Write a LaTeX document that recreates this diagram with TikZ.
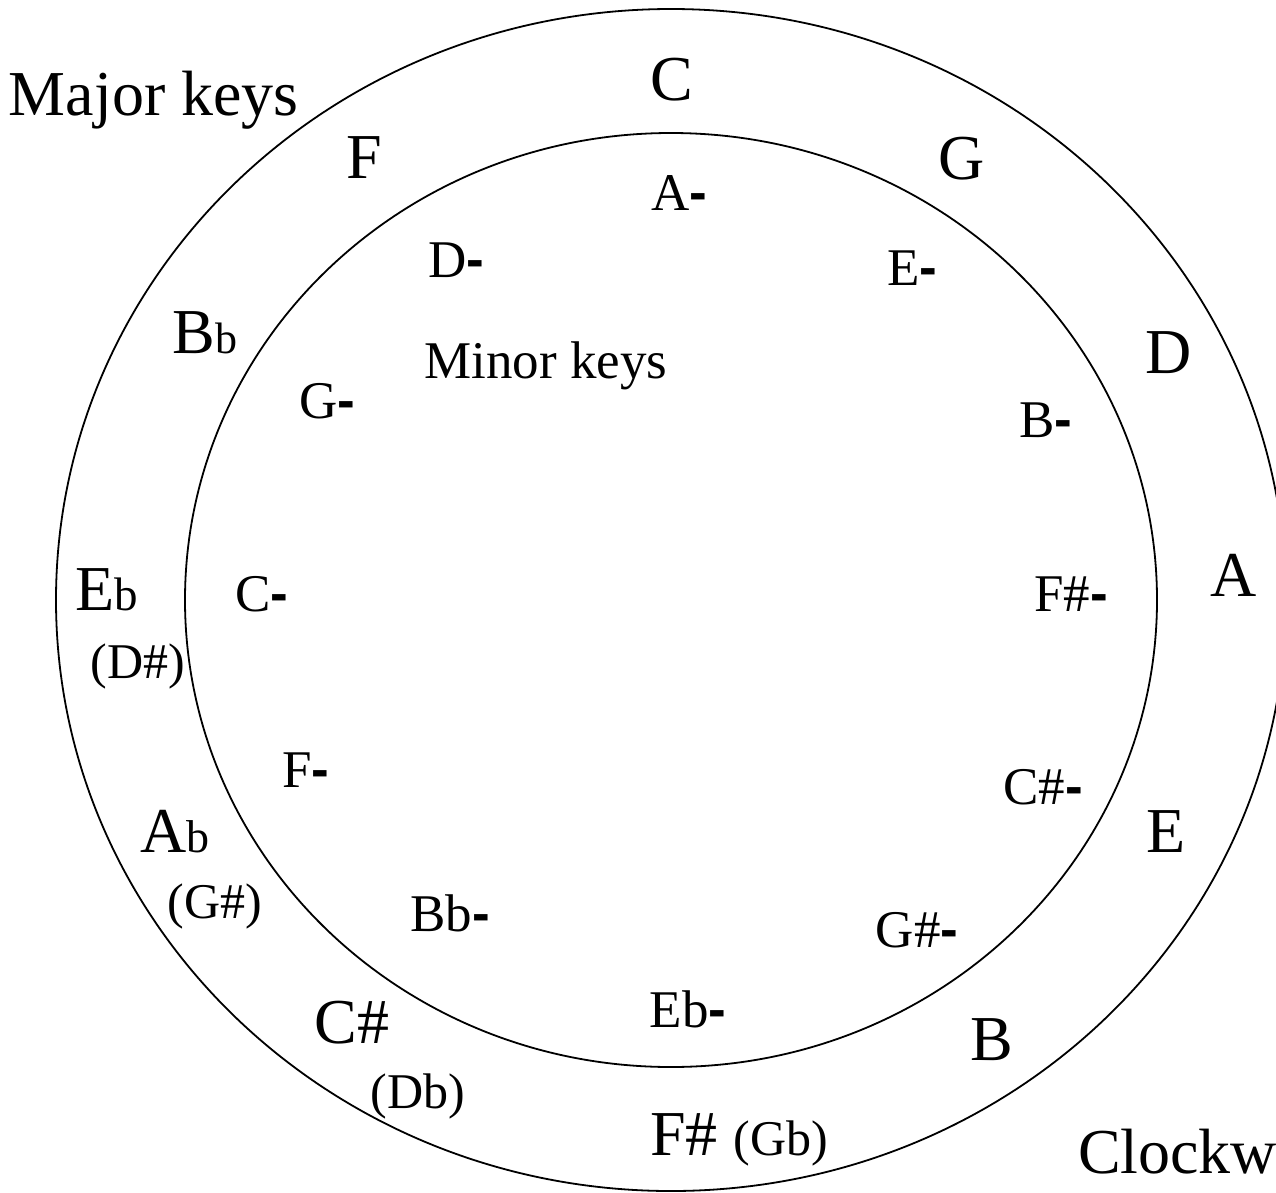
\documentclass[tikz,border=0pt]{standalone}
\usepackage{fontspec}
\setmainfont{Liberation Serif}
\newfontfamily\dashfont{Liberation Sans}
\newcommand\majsz{\fontsize{64}{70}\selectfont}
\newcommand\minsz{\fontsize{53}{58}\selectfont}
\newcommand\altsz{\fontsize{50}{55}\selectfont}
\newcommand\flatb[1]{{\fontsize{#1}{#1}\selectfont b}}
\newcommand\mnrdash{{\dashfont\bfseries -}}
\begin{document}
\begin{tikzpicture}[x=1pt, y=-1pt,
  lbl/.style={inner sep=0pt, outer sep=0pt, anchor=base},
  major/.style={lbl, font=\majsz},
  minor/.style={lbl, font=\minsz},
  alt/.style={lbl, font=\altsz},
  ring/.style={draw=black, line width=1.8pt}]
\useasboundingbox (0,0) rectangle (1276,1192);
\begin{scope}
  \clip (0,0) rectangle (1276,1192);
  \draw[ring] (671,600) ellipse [x radius=615, y radius=591];
  \draw[ring] (671,600) ellipse [x radius=486, y radius=467];
\end{scope}
% titles
\node[major, anchor=base west] (majkeys) at (9,115) {Major keys};
\node[minor] (minkeys) at (546,378) {Minor keys};
\node[major, anchor=base west] (clock) at (1078,1173) {Clockw};
% major keys
\node[major] (kC) at (672,100) {C};
\node[major] (kG) at (962,179) {G};
\node[major] (kD) at (1169,373) {D};
\node[major] (kA) at (1234,596) {A};
\node[major] (kE) at (1166,852) {E};
\node[major] (kB) at (992,1060) {B};
\node[major, anchor=base west] (kFs) at (650,1155) {F\# {\altsz (Gb)}};
\node[major] (kCs) at (352,1043) {C\#};
\node[alt] (kDb) at (418,1108) {(Db)};
\node[major] (kAb) at (175,852) {A\flatb{46}};
\node[alt] (kGs) at (215,918) {(G\#)};
\node[major] (kEb) at (107,610) {E\flatb{47}};
\node[alt] (kDs) at (138,678) {(D\#)};
\node[major] (kBb) at (205,353) {B\flatb{44}};
\node[major] (kF) at (364,178) {F};
% minor keys
\node[minor] (mA) at (679,210) {A\mnrdash};
\node[minor] (mE) at (912,285) {E\mnrdash};
\node[minor] (mB) at (1046,437) {B\mnrdash};
\node[minor] (mFs) at (1071,611) {F\#\mnrdash};
\node[minor] (mCs) at (1043,804) {C\#\mnrdash};
\node[minor] (mGs) at (917,947) {G\#\mnrdash};
\node[minor] (mEb) at (688,1027) {Eb\mnrdash};
\node[minor] (mBb) at (450,931) {Bb\mnrdash};
\node[minor] (mF) at (306,787) {F\mnrdash};
\node[minor] (mC) at (262,611) {C\mnrdash};
\node[minor] (mG) at (327,418) {G\mnrdash};
\node[minor] (mD) at (456,277) {D\mnrdash};
\end{tikzpicture}
\end{document}
